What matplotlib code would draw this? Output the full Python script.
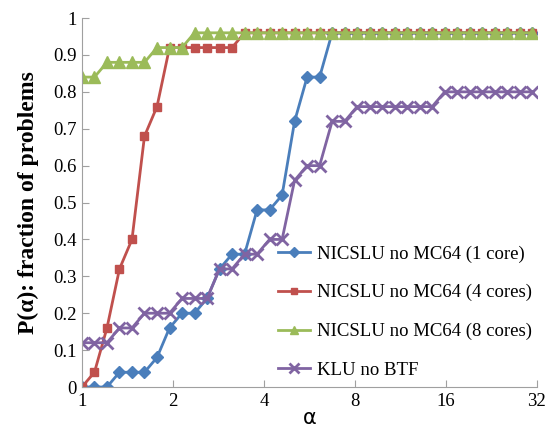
import numpy as np
import matplotlib.pyplot as plt
from matplotlib.ticker import FixedLocator, NullLocator

# alpha values: 1.1^k, k = 0..36
alpha = 1.1 ** np.arange(37)

one_core = [0, 0, 0, 0.04, 0.04, 0.04, 0.08, 0.16, 0.20, 0.20, 0.24, 0.32, 0.36, 0.36,
            0.48, 0.48, 0.52, 0.72, 0.84, 0.84] + [0.96] * 17
four_cores = [0, 0.04, 0.16, 0.32, 0.40, 0.68, 0.76, 0.92, 0.92, 0.92, 0.92, 0.92,
              0.92] + [0.96] * 24
eight_cores = [0.84, 0.84, 0.88, 0.88, 0.88, 0.88, 0.92, 0.92, 0.92] + [0.96] * 28
klu = [0.12, 0.12, 0.12, 0.16, 0.16, 0.20, 0.20, 0.20, 0.24, 0.24, 0.24, 0.32, 0.32,
       0.36, 0.36, 0.40, 0.40, 0.56, 0.60, 0.60, 0.72, 0.72] + [0.76] * 7 + [0.80] * 8

labels = ["NICSLU no MC64 (1 core)", "NICSLU no MC64 (4 cores)",
          "NICSLU no MC64 (8 cores)", "KLU no BTF"]
xticks = [1, 2, 4, 8, 16, 32]
yticks = [0, 0.1, 0.2, 0.3, 0.4, 0.5, 0.6, 0.7, 0.8, 0.9, 1]
ytick_labels = ["0", "0.1", "0.2", "0.3", "0.4", "0.5", "0.6", "0.7", "0.8", "0.9", "1"]

serif = "Liberation Serif"

fig = plt.figure(figsize=(5.5, 4.3), dpi=100)
ax = fig.add_axes([0.149, 0.1, 0.827, 0.858])

ax.plot(alpha, one_core, color="#4a7ebb", lw=2, marker="D", ms=6.5, label=labels[0])
ax.plot(alpha, four_cores, color="#c0504d", lw=2, marker="s", ms=6, label=labels[1])
ax.plot(alpha, eight_cores, color="#9bbb59", lw=2, marker="^", ms=8, label=labels[2])
ax.plot(alpha, klu, color="#8064a2", lw=2, marker="x", ms=9, mew=2, label=labels[3])

ax.set_xscale("log", base=2)
ax.set_xlim(1, 32)
ax.set_ylim(0, 1)
ax.xaxis.set_major_locator(FixedLocator(xticks))
ax.xaxis.set_minor_locator(NullLocator())
ax.set_xticklabels([str(t) for t in xticks], fontfamily=serif, fontsize=13.5)
ax.set_yticks(yticks)
ax.set_yticklabels(ytick_labels, fontfamily=serif, fontsize=13.5)
ax.tick_params(direction="in", color="#a0a0a0", length=5, pad=4)

for s in ["top", "right"]:
    ax.spines[s].set_visible(False)
for s in ["left", "bottom"]:
    ax.spines[s].set_color("#a0a0a0")

ax.set_xlabel("α", fontsize=15, labelpad=-1)
ax.set_ylabel("P(α): fraction of problems", fontfamily=serif, fontsize=17,
              fontweight="bold", labelpad=10)

leg = ax.legend(loc="upper left", bbox_to_anchor=(0.394, 0.43), frameon=False,
                prop={"family": serif, "size": 13.5}, labelspacing=1.15,
                handlelength=1.7, handletextpad=0.4, markerscale=0.75)

fig.savefig("out.png", dpi=100)
